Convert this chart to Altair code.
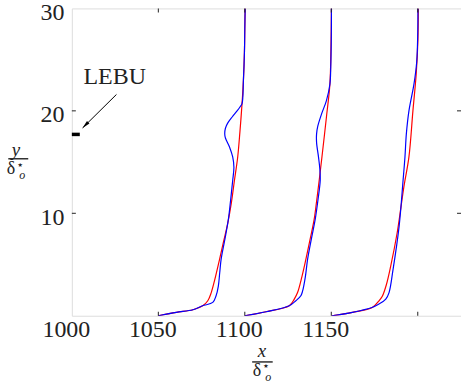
import altair as alt
import pandas as pd

# ---------------- data ----------------
# profile 1 (station x/δ = 1050)
r1_y = [0, 0.33, 0.58, 0.97, 1.46, 2.26, 3.5, 5.5, 7.3, 9.0, 11.0, 13.2, 15.5, 18.0, 20.7, 23.0, 25.8, 28.0, 30.0]
r1_x = [1050, 1060.4, 1070, 1075.7, 1078.6, 1080.6, 1082.6, 1085.4, 1087.8, 1090.1, 1092.2, 1094.0, 1095.9, 1097.2, 1098.4, 1099.2, 1099.8, 1100.0, 1100.2]
b1_y = [0, 0.33, 0.58, 0.97, 1.3, 1.95, 2.9, 4.2, 5.5, 7.3, 9.4, 11.3, 13.2, 14.5, 15.5, 16.5, 17.35, 17.75, 18.3, 18.8, 19.4, 19.95, 20.4, 20.7, 23.0, 25.8, 28.0, 30.0]
b1_x = [1050, 1060.4, 1070, 1075.5, 1081.5, 1083.4, 1084.7, 1085.5, 1086.3, 1088.3, 1090.5, 1091.8, 1093.0, 1093.7, 1093.0, 1091.1, 1088.8, 1088.4, 1088.8, 1090.1, 1092.7, 1095.3, 1097.3, 1098.4, 1099.2, 1099.8, 1100.0, 1100.2]
# profile 2 (station 1100)
r2_y = [0, 0.39, 0.97, 1.62, 2.26, 3.8, 5.5, 7.5, 9.4, 11.3, 13.2, 15.5, 19.4, 22.6, 26.0, 30.0]
r2_x = [1100, 1112.3, 1125.7, 1128.6, 1130.5, 1133.0, 1135.3, 1137.8, 1140.1, 1141.6, 1143.0, 1144.6, 1147.2, 1149.2, 1149.8, 1150.1]
b2_y = [0, 0.39, 0.97, 1.46, 1.95, 2.4, 3.8, 5.5, 7.5, 9.4, 11.3, 13.2, 14.3, 15.5, 16.9, 17.75, 18.5, 19.8, 21.0, 22.6, 24.3, 27.0, 30.0]
b2_x = [1100, 1112.3, 1125.7, 1129.5, 1132.4, 1133.4, 1135.0, 1136.3, 1138.5, 1140.7, 1142.3, 1143.6, 1143.4, 1142.6, 1141.5, 1141.5, 1142.2, 1144.6, 1147.2, 1149.2, 1149.7, 1150.0, 1150.1]
# profile 3 (station 1150)
r3_y = [0, 0.33, 0.8, 1.46, 1.9, 3.0, 4.8, 8.1, 10.5, 12.6, 15.5, 20.0, 23.6, 27.0, 30.0]
r3_x = [1150.3, 1162.2, 1173.7, 1177.6, 1179.5, 1181.8, 1184.3, 1188.1, 1190.2, 1192.0, 1194.9, 1197.2, 1199.1, 1200.1, 1200.3]
b3_y = [0, 0.33, 0.8, 1.14, 1.62, 2.26, 4.5, 8.7, 13.2, 15.5, 17.75, 20.0, 22.6, 24.8, 27.6, 30.0]
b3_x = [1150.3, 1162.2, 1173.5, 1177.6, 1181.5, 1183.4, 1185.7, 1189.2, 1191.5, 1192.6, 1193.4, 1194.9, 1197.8, 1199.4, 1200.0, 1200.1]

x_tick_labels = [1000, 1050, 1100, 1150]
x_ticks = [1050, 1100, 1150, 1200]
y_tick_labels = [10, 20, 30]
y_ticks = [10, 20]

lebu_y = 17.7
lebu_x = [1000, 1004.6]
arrow_x = [1025.8, 1006.2]
arrow_y = [21.6, 18.33]
lebu_label = "LEBU"
lebu_label_x = 1024.8
lebu_label_y = 23.3

X_DOM = [1000, 1225]
Y_DOM = [0, 30]

# ---------------- build table ----------------
rows = []
for prof, (rx, ry, bx, by) in enumerate([(r1_x, r1_y, b1_x, b1_y), (r2_x, r2_y, b2_x, b2_y), (r3_x, r3_y, b3_x, b3_y)]):
    for i, (xv, yv) in enumerate(zip(rx, ry)):
        rows.append({"x": xv, "y": yv, "case": "a_red", "prof": prof, "idx": i})
    for i, (xv, yv) in enumerate(zip(bx, by)):
        rows.append({"x": xv, "y": yv, "case": "b_blue", "prof": prof, "idx": i})
df = pd.DataFrame(rows)

W, H = 390, 308
FONT = "Liberation Serif"
TXT = "#222222"
TICK = 4  # inward tick length in px

xscale = alt.Scale(domain=X_DOM, nice=False, zero=False)
yscale = alt.Scale(domain=Y_DOM, nice=False, zero=False)

xaxis = alt.Axis(values=x_tick_labels, title=None, grid=False, ticks=False, tickSize=0, domain=False,
                 labelFont=FONT, labelFontSize=24, labelColor=TXT, labelPadding=2, labelOffset=-6,
                 labelFlush=False, format="d")
yaxis = alt.Axis(values=y_tick_labels, title=None, grid=False, ticks=False, tickSize=0, domain=False,
                 labelFont=FONT, labelFontSize=24, labelColor=TXT, labelPadding=8, labelOffset=4,
                 labelBaseline="middle", format="d")

lines = alt.Chart(df).mark_line(strokeWidth=1.2, interpolate="catmull-rom", clip=True).encode(
    x=alt.X("x:Q", scale=xscale, axis=xaxis),
    y=alt.Y("y:Q", scale=yscale, axis=yaxis),
    color=alt.Color("case:N", scale=alt.Scale(domain=["a_red", "b_blue"], range=["#ff0000", "#0000ff"]), legend=None),
    detail="prof:N",
    order="idx:Q",
)

one = pd.DataFrame({"a": [0]})
xt = pd.DataFrame({"t": x_ticks})
yt = pd.DataFrame({"t": y_ticks})

# inward tick marks: centres half a tick inside the frame
hy = (Y_DOM[1] - Y_DOM[0]) * (TICK / 2) / H
hx = (X_DOM[1] - X_DOM[0]) * (TICK / 2) / W

bot_ticks = alt.Chart(xt).mark_tick(color=TXT, thickness=1, size=TICK, orient="vertical", opacity=1).encode(
    x=alt.X("t:Q", scale=xscale), y=alt.datum(Y_DOM[0] + hy, scale=yscale))
top_ticks = alt.Chart(xt).mark_tick(color=TXT, thickness=1, size=TICK, orient="vertical", opacity=1).encode(
    x=alt.X("t:Q", scale=xscale), y=alt.datum(Y_DOM[1] - hy, scale=yscale))
left_ticks = alt.Chart(yt).mark_tick(color=TXT, thickness=1, size=TICK, orient="horizontal", opacity=1).encode(
    y=alt.Y("t:Q", scale=yscale), x=alt.datum(X_DOM[0] + hx, scale=xscale))
right_ticks = alt.Chart(yt).mark_tick(color=TXT, thickness=1, size=TICK, orient="horizontal", opacity=1).encode(
    y=alt.Y("t:Q", scale=yscale), x=alt.datum(X_DOM[1] - hx, scale=xscale))

lebu_df = pd.DataFrame({"x": [lebu_x[0]], "x2": [lebu_x[1]], "y": [lebu_y]})
lebu_bar = alt.Chart(lebu_df).mark_rule(color="black", strokeWidth=3.5).encode(
    x=alt.X("x:Q", scale=xscale), x2="x2:Q", y=alt.Y("y:Q", scale=yscale))

arr_df = pd.DataFrame({"x": [arrow_x[0]], "x2": [arrow_x[1]], "y": [arrow_y[0]], "y2": [arrow_y[1]]})
arrow_line = alt.Chart(arr_df).mark_rule(color="black", strokeWidth=1).encode(
    x=alt.X("x:Q", scale=xscale), x2="x2:Q", y=alt.Y("y:Q", scale=yscale), y2="y2:Q")
head_df = pd.DataFrame({"x": [arrow_x[1]], "y": [arrow_y[1]]})
arrow_head = alt.Chart(head_df).mark_point(
    shape="M0,0L0.35,1.6L-0.35,1.6Z", filled=True, color="black", size=100, angle=225, opacity=1
).encode(x=alt.X("x:Q", scale=xscale), y=alt.Y("y:Q", scale=yscale))

lbl_df = pd.DataFrame({"x": [lebu_label_x], "y": [lebu_label_y], "t": [lebu_label]})
lebu_text = alt.Chart(lbl_df).mark_text(font=FONT, fontSize=24, color=TXT, fill=TXT, align="center", baseline="middle").encode(
    x=alt.X("x:Q", scale=xscale), y=alt.Y("y:Q", scale=yscale), text="t:N")


def txt(s, x, y, size, style="normal", font=FONT):
    return alt.Chart(one).mark_text(text=s, font=font, fontSize=size, fontStyle=style, color=TXT, fill=TXT,
                                    align="center", baseline="middle").encode(x=alt.value(x), y=alt.value(y))


def hline(x1, x2, y):
    return alt.Chart(one).mark_rule(color=TXT, strokeWidth=1.4).encode(x=alt.value(x1), x2=alt.value(x2), y=alt.value(y))


# y-axis title: y / δ*_o
ytitle = [
    txt("y", -56, 142.0, 19, "italic"),
    hline(-63.7, -43.7, 150.7),
    txt("δ", -61.0, 161.0, 18),
    txt("★", -51.8, 156.5, 6, font="DejaVu Sans"),
    txt("o", -49.8, 167.0, 12, "italic"),
]
# x-axis title: x / δ*_o
xtitle = [
    txt("x", 190.5, 343.0, 19, "italic"),
    hline(180.7, 201.3, 354.3),
    txt("δ", 185.5, 363.2, 18),
    txt("★", 194.6, 358.5, 6, font="DejaVu Sans"),
    txt("o", 196.8, 369.0, 12, "italic"),
]

chart = alt.layer(
    lines, bot_ticks, top_ticks, left_ticks, right_ticks,
    lebu_bar, arrow_line, arrow_head, lebu_text, *ytitle, *xtitle
).properties(
    width=W, height=H,
    padding={"left": 72, "top": 8, "right": 0, "bottom": 72},
    autosize=alt.AutoSizeParams(type="none"),
).configure_view(
    stroke="#262626", strokeWidth=1.8
).configure(background="white")

chart.save("out.html", embed_options={"renderer": "svg", "actions": False})
